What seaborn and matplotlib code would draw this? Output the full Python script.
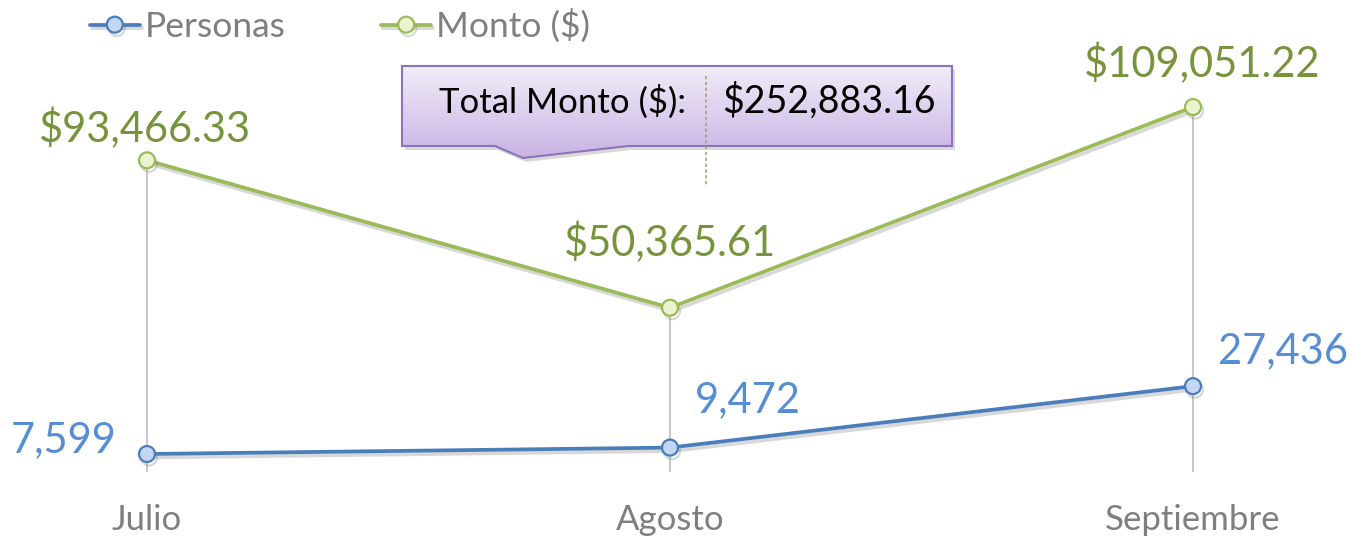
import matplotlib
matplotlib.use("Agg")
import matplotlib.pyplot as plt
import matplotlib.patheffects as pe
from matplotlib.patches import Polygon
from matplotlib.colors import LinearSegmentedColormap
import seaborn as sns
import numpy as np
import pandas as pd

# data
meses = ["Julio", "Agosto", "Septiembre"]
personas = [7599, 9472, 27436]
monto = [93466.33, 50365.61, 109051.22]

sns.set_style("white")
plt.rcParams["font.family"] = ["Lato", "DejaVu Sans"]

df = pd.DataFrame({"pos": np.arange(len(meses)), "Mes": meses,
                   "Personas": personas, "Monto ($)": monto})

AZUL, VERDE = "#4a7ebb", "#9bbb59"
shadow = [pe.SimpleLineShadow(offset=(1.5, -2.5), shadow_color="0.5", alpha=0.3), pe.Normal()]

fig = plt.figure(figsize=(13.52, 5.39), dpi=100)
ax = fig.add_axes([0, 67 / 539, 1, 472 / 539])

# drop lines
ax.vlines(df["pos"], 2339, df[["Personas", "Monto ($)"]].max(axis=1),
          color="#c3c3c3", lw=1.3, zorder=1)

sns.lineplot(data=df, x="pos", y="Personas", ax=ax, color=AZUL, lw=2.7,
             marker="o", markersize=11.5, markerfacecolor="#c3d6f3",
             markeredgecolor=AZUL, markeredgewidth=1.6, label="Personas",
             path_effects=shadow, zorder=3)
sns.lineplot(data=df, x="pos", y="Monto ($)", ax=ax, color=VERDE, lw=2.7,
             marker="o", markersize=11.5, markerfacecolor="#eaf5cf",
             markeredgecolor=VERDE, markeredgewidth=1.6, label="Monto ($)",
             path_effects=shadow, zorder=3)

ax.set_xlim(-147 / 523, 1205 / 523)
ax.set_ylim(2339, 140351)
ax.set_xticks(df["pos"], meses)
ax.set_yticks([])
ax.set_xlabel("")
ax.set_ylabel("")
ax.tick_params(axis="x", length=0, pad=23, labelsize=25, labelcolor="#7f7f7f")
for s in ax.spines.values():
    s.set_visible(False)

# data labels
off_p = [(-30, 2, "right"), (25, 35, "left"), (25, 23, "left")]
off_m = [(-2, 18, "center"), (0, 52, "center"), (9, 30, "center")]
for i, v in enumerate(personas):
    dx, dy, ha = off_p[i]
    ax.annotate(f"{v:,}", (i, v), xytext=(dx, dy), textcoords="offset pixels",
                ha=ha, va="baseline", fontsize=30, color="#558ed5")
for i, v in enumerate(monto):
    dx, dy, ha = off_m[i]
    ax.annotate(f"${v:,.2f}", (i, v), xytext=(dx, dy), textcoords="offset pixels",
                ha=ha, va="baseline", fontsize=30, color="#77933c")

leg = ax.legend(loc="center left", bbox_to_anchor=(90 / 1352, 1 - 26 / 539),
                bbox_transform=fig.transFigure, ncol=2, frameon=False,
                fontsize=25.5, handlelength=1.4, handletextpad=0.15,
                columnspacing=2.7, borderaxespad=0, borderpad=0)
for t in leg.get_texts():
    t.set_color("#7f7f7f")

# callout box with total
ov = fig.add_axes([0, 0, 1, 1], zorder=5)
ov.set_xlim(0, 1352)
ov.set_ylim(539, 0)
ov.axis("off")
pts = [(402, 66), (952, 66), (952, 146), (628, 146), (523, 158), (495, 146), (402, 146)]
sh = Polygon([(x + 3, y + 4) for x, y in pts], closed=True, fc="0.4", ec="none", alpha=0.25)
ov.add_patch(sh)
box = Polygon(pts, closed=True, fc="none", ec="#8d73ba", lw=1.5, zorder=3)
ov.add_patch(box)
cmap = LinearSegmentedColormap.from_list("lav", ["#f1ecf8", "#c8b4e4"])
grad = ov.imshow(np.linspace(0, 1, 100).reshape(-1, 1), cmap=cmap, aspect="auto",
                 extent=(402, 952, 158, 66), zorder=2)
grad.set_clip_path(box)
ov.set_xlim(0, 1352)
ov.set_ylim(539, 0)
ov.plot([706, 706], [76, 187], ls=(0, (2, 1.5)), color="#a8a27a", lw=1.2, zorder=4)
ov.text(686, 113, "Total Monto ($):", ha="right", va="baseline", fontsize=25, color="black", zorder=4)
ov.text(722, 113, f"${sum(monto):,.2f}", ha="left", va="baseline", fontsize=27, color="black", zorder=4)

fig.savefig("out.png", dpi=100)
